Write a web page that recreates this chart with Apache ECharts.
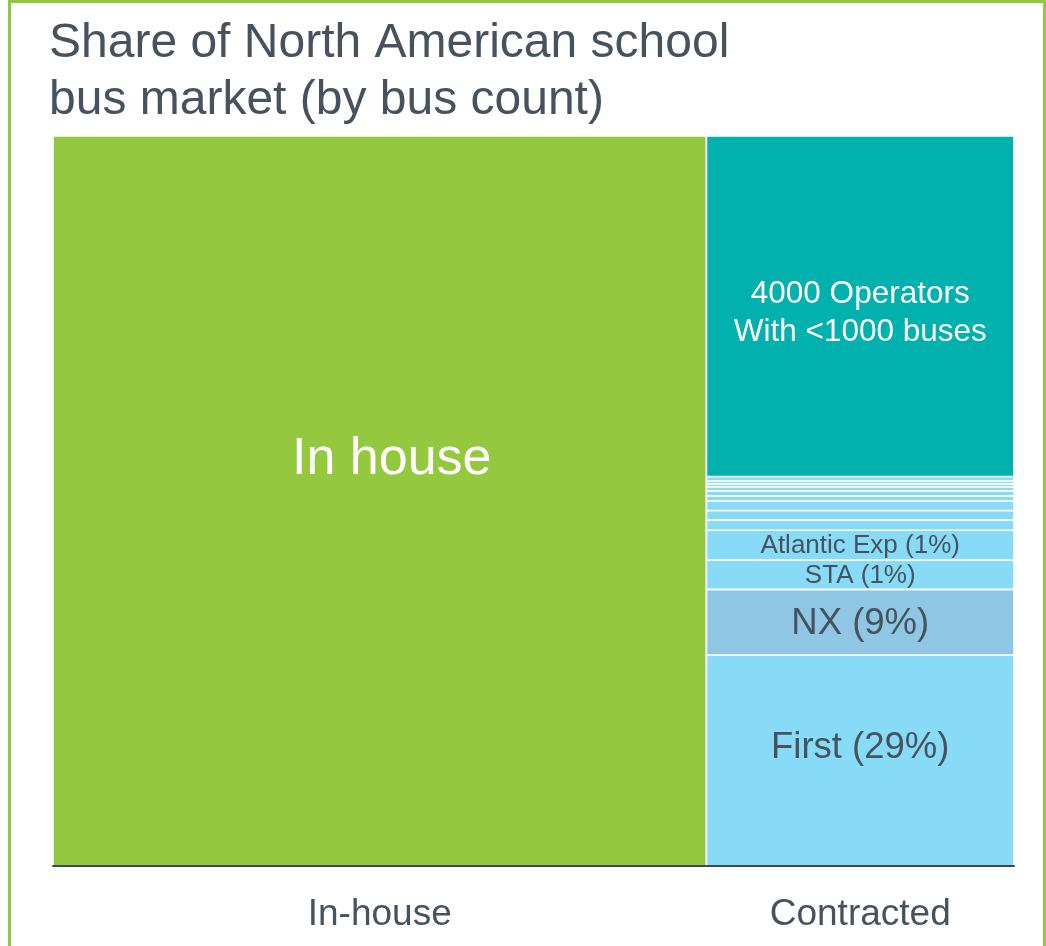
<!DOCTYPE html>
<html>
<head>
<meta charset="utf-8">
<script src="https://cdn.jsdelivr.net/npm/echarts@6/dist/echarts.min.js"></script>
<style>
  html, body { margin: 0; padding: 0; background: #fff; }
  #marketShare { width: 1046px; height: 946px; }
</style>
</head>
<body>
<div id="marketShare"></div>
<script>
// column categories and their widths (share of market, %)
const columns = ['In-house', 'Contracted'];
const columnWidths = [68, 32];

// in-house column is one block
const inHouseNames = ['In house'];
const inHouseValues = [100];

// contracted column, stacked bottom to top (% of column height)
const contractedNames = [
  'First (29%)', 'NX (9%)', 'STA (1%)', 'Atlantic Exp (1%)',
  '', '', '', '', '', '', '', '', '',
  '4000 Operators\nWith <1000 buses'
];
const contractedValues = [28.9, 9.0, 4.0, 4.1, 1.4, 1.3, 1.3, 0.7, 0.7, 0.55, 0.4, 0.4, 0.6, 46.65];

const chart = echarts.init(document.getElementById('marketShare'));

// colours of each block
const green = '#94c83e';
const teal = '#00b1ae';
const lightBlue = '#87dbf6';
const nxBlue = '#8ec6e3';
const textDark = '#46535f';

// build rectangles: [x0, x1, y0, y1, name, colIndex, segIndex]
let rects = [];
let xStart = 0;
[inHouseValues, contractedValues].forEach(function (vals, ci) {
  const names = ci === 0 ? inHouseNames : contractedNames;
  let yStart = 0;
  vals.forEach(function (v, si) {
    rects.push([xStart, xStart + columnWidths[ci], yStart, yStart + v, names[si], ci, si]);
    yStart += v;
  });
  xStart += columnWidths[ci];
});

// centers of columns for the axis labels
let centers = [];
let acc = 0;
columnWidths.forEach(function (w) {
  centers.push(acc + w / 2);
  acc += w;
});

function blockStyle (ci, si) {
  if (ci === 0) {
    return { fill: green, text: '#fff', size: 52, lh: 60, offset: [12, -41] };
  }
  if (si === 0) return { fill: lightBlue, text: textDark, size: 36.5, lh: 44, offset: [0, -13] };
  if (si === 1) return { fill: nxBlue, text: textDark, size: 36.5, lh: 44, offset: [0, 2] };
  if (si === contractedValues.length - 1) return { fill: teal, text: '#fff', size: 31.5, lh: 38, offset: [0, 7] };
  return { fill: lightBlue, text: textDark, size: 26, lh: 30, offset: [0, 1] };
}

let option = {
  animation: false,
  title: {
    text: 'Share of North American school\nbus market (by bus count)',
    left: 44,
    top: 10,
    textStyle: {
      fontFamily: 'Liberation Sans',
      fontSize: 48,
      fontWeight: 'normal',
      lineHeight: 57,
      color: '#46535f'
    }
  },
  graphic: [{
    type: 'rect',
    shape: { x: 9.5, y: 1.5, width: 1035, height: 980 },
    style: { fill: 'none', stroke: green, lineWidth: 3 },
    silent: true
  }],
  grid: {
    left: 53,
    right: 32,
    top: 136,
    bottom: 80
  },
  xAxis: {
    type: 'value',
    min: 0,
    max: 100,
    z: 10,
    splitLine: { show: false },
    axisTick: { show: false },
    axisLine: {
      show: true,
      onZero: false,
      lineStyle: { color: '#3d4a55', width: 2 }
    },
    axisLabel: {
      show: true,
      customValues: centers,
      margin: 30,
      fontFamily: 'Liberation Sans',
      fontSize: 37,
      color: '#46535f',
      formatter: function (value) {
        let idx = centers.findIndex(function (c) { return Math.abs(c - value) < 0.01; });
        return idx >= 0 ? columns[idx] : '';
      }
    }
  },
  yAxis: {
    type: 'value',
    min: 0,
    max: 100,
    show: false
  },
  series: [{
    type: 'custom',
    data: rects,
    encode: { x: [0, 1], y: [2, 3] },
    renderItem: function (params, api) {
      const p0 = api.coord([api.value(0), api.value(3)]);
      const p1 = api.coord([api.value(1), api.value(2)]);
      const r = rects[params.dataIndex];
      const st = blockStyle(r[5], r[6]);
      return {
        type: 'rect',
        shape: { x: p0[0], y: p0[1], width: p1[0] - p0[0], height: p1[1] - p0[1] },
        style: { fill: st.fill, stroke: '#fff', lineWidth: 1.6 },
        textContent: {
          style: {
            text: r[4],
            fill: st.text,
            fontFamily: 'Liberation Sans',
            fontSize: st.size,
            lineHeight: st.lh,
            align: 'center'
          }
        },
        textConfig: { position: 'inside', offset: st.offset }
      };
    }
  }]
};

chart.setOption(option);
</script>
</body>
</html>
